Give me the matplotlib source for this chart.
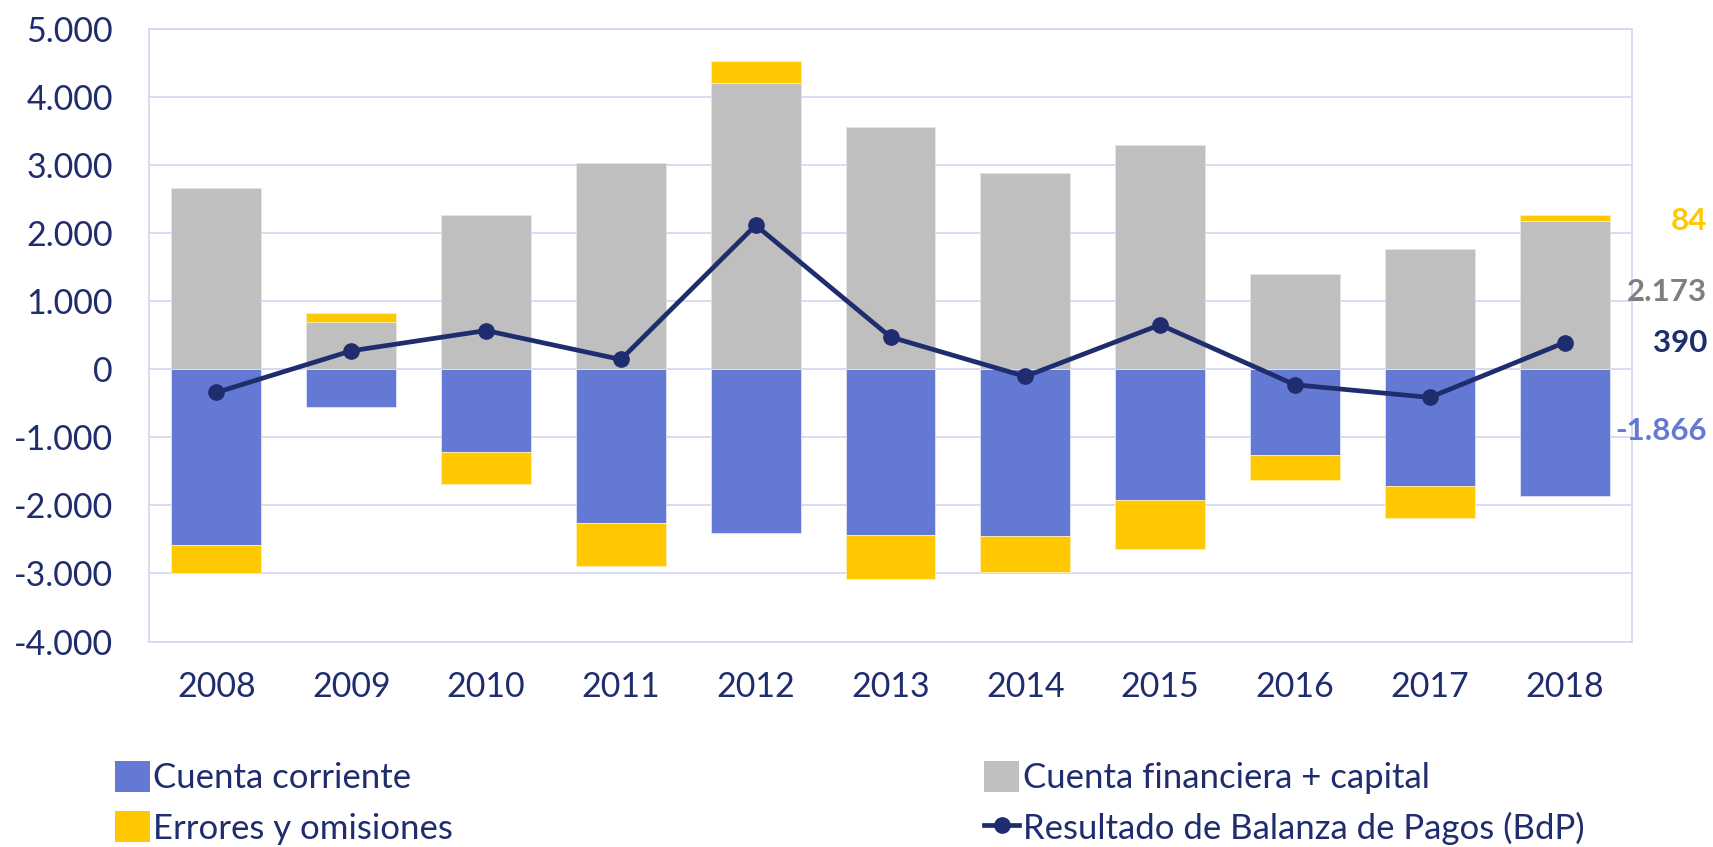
import numpy as np
import matplotlib.pyplot as plt
import matplotlib.transforms as mtransforms
from matplotlib.ticker import FuncFormatter, MultipleLocator
from matplotlib.lines import Line2D
from matplotlib.patches import Patch

plt.rcParams['font.family'] = ['Lato', 'DejaVu Sans']

years = ['2008', '2009', '2010', '2011', '2012', '2013', '2014', '2015', '2016', '2017', '2018']
cuenta_corriente = [-2580, -552, -1212, -2263, -2413, -2437, -2449, -1921, -1260, -1717, -1866]
cuenta_financiera = [2654, 694, 2258, 3035, 4202, 3559, 2874, 3286, 1402, 1767, 2173]
errores = [-416, 127, -479, -630, 325, -650, -532, -713, -371, -465, 84]
resultado = [-342, 269, 567, 142, 2114, 472, -107, 652, -229, -415, 390]

c_blue = '#6379d4'
c_gray = '#bfbfbf'
c_yellow = '#ffc800'
c_navy = '#1f2d6e'
c_grid = '#d3d8f2'


def fmt_es(v, pos=None):
    return f'{v:,.0f}'.replace(',', '.')


fig = plt.figure(figsize=(17.13, 8.47), dpi=100)
ax = fig.add_axes([0.087, 0.2426, 0.8657, 0.7235])

x = np.arange(len(years))
w = 0.667
cc = np.array(cuenta_corriente, dtype=float)
cf = np.array(cuenta_financiera, dtype=float)
er = np.array(errores, dtype=float)

# Excel-like stacking: positives on positives, negatives on negatives
pos = np.zeros(len(x))
neg = np.zeros(len(x))
bottoms = []
for vals in (cc, cf, er):
    b = np.where(vals >= 0, pos, neg)
    bottoms.append(b)
    pos = pos + np.where(vals >= 0, vals, 0)
    neg = neg + np.where(vals < 0, vals, 0)

ax.bar(x, cc, w, bottom=bottoms[0], color=c_blue, edgecolor='#dfe3f5', linewidth=0.6, zorder=2)
ax.bar(x, cf, w, bottom=bottoms[1], color=c_gray, edgecolor='#e4e4e4', linewidth=0.6, zorder=2)
ax.bar(x, er, w, bottom=bottoms[2], color=c_yellow, edgecolor='#fff0b0', linewidth=0.6, zorder=2)
ax.plot(x, resultado, color=c_navy, lw=3.4, marker='o', ms=11, zorder=3)

ax.set_xlim(-0.5, len(x) - 0.5)
ax.set_ylim(-4000, 5000)
ax.yaxis.set_major_locator(MultipleLocator(1000))
ax.yaxis.set_major_formatter(FuncFormatter(fmt_es))
ax.set_xticks(x)
ax.set_xticklabels(years)
ax.grid(axis='y', color=c_grid, lw=1.3, zorder=0)
ax.set_axisbelow(True)
for s in ax.spines.values():
    s.set_color(c_grid)
    s.set_linewidth(1.3)
ax.tick_params(axis='both', length=0, labelsize=24.5, labelcolor=c_navy)
ax.tick_params(axis='y', pad=26)
ax.tick_params(axis='x', pad=21)

# labels for the last year, at the middle of each segment
i = len(x) - 1
lab_x = 1707 / 1713
btr = mtransforms.blended_transform_factory(fig.transFigure, ax.transData)
ax.text(lab_x, bottoms[2][i] + er[i] / 2 - 40, fmt_es(er[i]), transform=btr, ha='right', va='center',
        fontsize=22.5, fontweight='bold', color=c_yellow)
ax.text(lab_x, bottoms[1][i] + cf[i] / 2 + 40, fmt_es(cf[i]), transform=btr, ha='right', va='center',
        fontsize=22.5, fontweight='bold', color='#7f7f7f')
ax.text(lab_x, resultado[i], fmt_es(resultado[i]), transform=btr, ha='right', va='center',
        fontsize=22.5, fontweight='bold', color=c_navy)
ax.text(lab_x, bottoms[0][i] + cc[i] / 2 + 30, fmt_es(cc[i]), transform=btr, ha='right', va='center',
        fontsize=22.5, fontweight='bold', color=c_blue)

handles = [
    Patch(facecolor=c_blue),
    Patch(facecolor=c_yellow),
    Patch(facecolor=c_gray),
    Line2D([0], [0], color=c_navy, lw=3.4, marker='o', ms=11),
]
labels = ['Cuenta corriente', 'Errores y omisiones', 'Cuenta financiera + capital',
          'Resultado de Balanza de Pagos (BdP)']
leg = fig.legend(handles, labels, loc='lower left', bbox_to_anchor=(0.055, -0.022), ncol=2,
                 frameon=False, fontsize=25, handlelength=1.0, handleheight=1.0, handletextpad=0.1,
                 columnspacing=15.3, labelspacing=0.5, borderaxespad=0.2, labelcolor=c_navy)

fig.savefig('out.png', dpi=100)
